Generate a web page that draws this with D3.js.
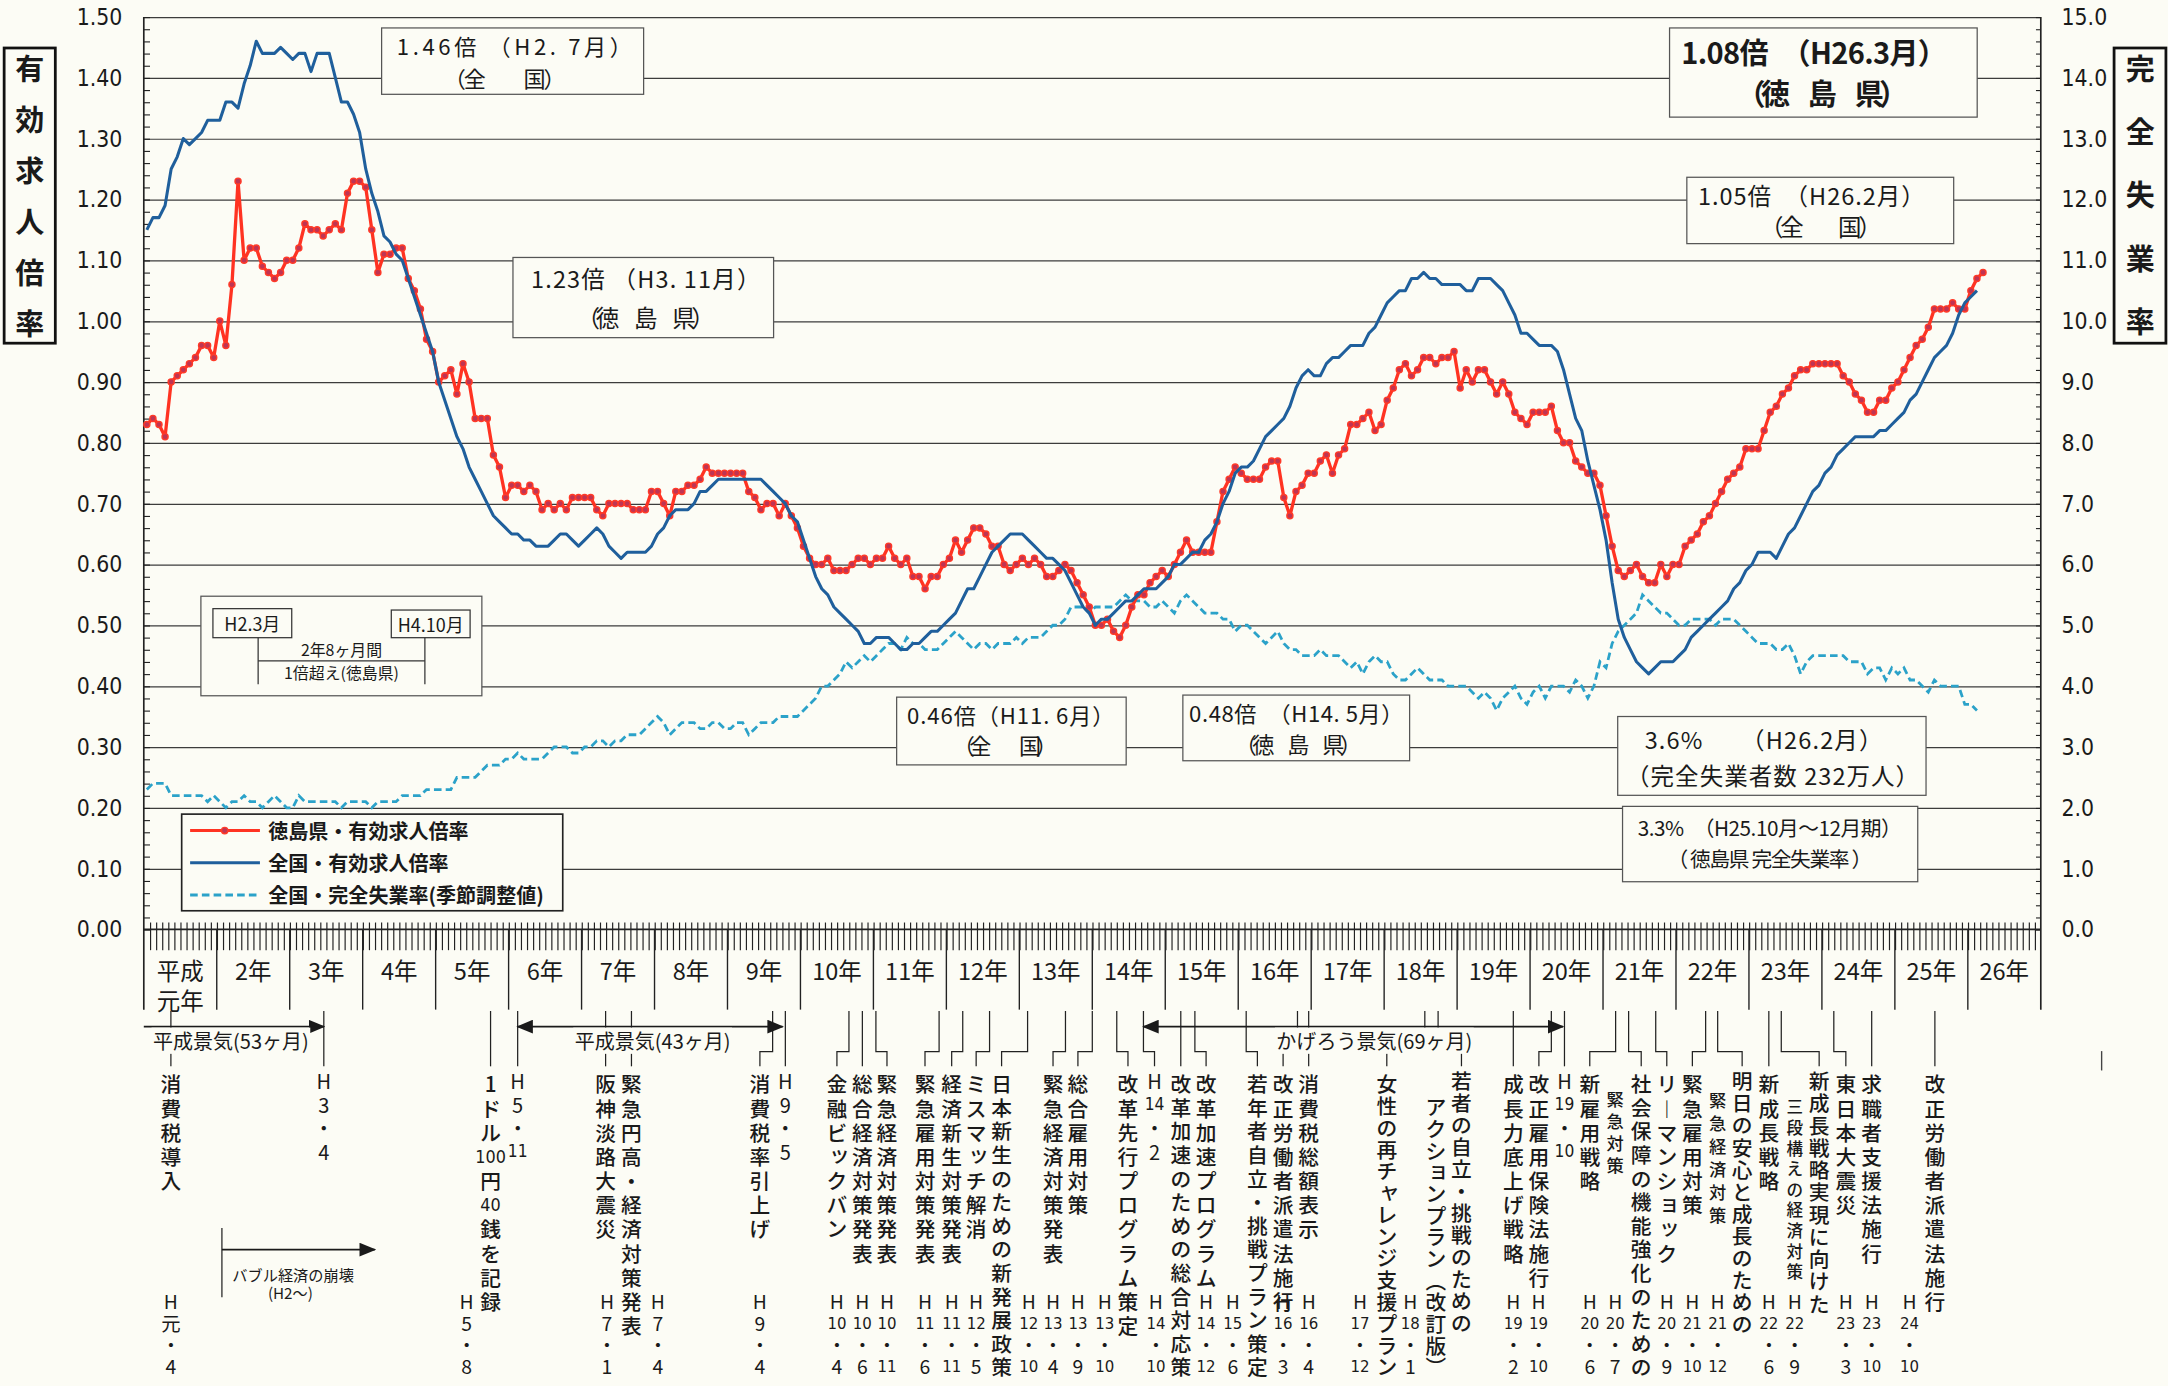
<!DOCTYPE html>
<html lang="ja">
<head>
<meta charset="UTF-8">
<title>有効求人倍率・完全失業率の推移</title>
<style>
body{margin:0;background:#fcfcf5;overflow:hidden;}
text{font-family:"Noto Sans CJK JP","Noto Sans CJK SC",sans-serif;fill:#1a1a1a;}
.num{font-family:"Liberation Sans Narrow","DejaVu Sans Condensed","Liberation Sans",sans-serif;}
</style>
</head>
<body>
<script src="https://d3js.org/d3.v7.min.js"></script>
<script>
// 月次データ（平成元年1月～）
// 徳島県・有効求人倍率
var tokushima = [
 0.83,0.84,0.83,0.81,0.90,0.91,0.92,0.93,0.94,0.96,0.96,0.94, // H1
 1.00,0.96,1.06,1.23,1.10,1.12,1.12,1.09,1.08,1.07,1.08,1.10, // H2
 1.10,1.12,1.16,1.15,1.15,1.14,1.15,1.16,1.15,1.21,1.23,1.23, // H3
 1.22,1.15,1.08,1.11,1.11,1.12,1.12,1.07,1.05,1.02,0.97,0.95, // H4
 0.90,0.91,0.92,0.88,0.93,0.90,0.84,0.84,0.84,0.78,0.76,0.71, // H5
 0.73,0.73,0.72,0.73,0.72,0.69,0.70,0.69,0.70,0.69,0.71,0.71, // H6
 0.71,0.71,0.69,0.68,0.70,0.70,0.70,0.70,0.69,0.69,0.69,0.72, // H7
 0.72,0.70,0.68,0.72,0.72,0.73,0.73,0.74,0.76,0.75,0.75,0.75, // H8
 0.75,0.75,0.75,0.72,0.71,0.69,0.70,0.70,0.68,0.70,0.68,0.66, // H9
 0.63,0.61,0.60,0.60,0.61,0.59,0.59,0.59,0.60,0.61,0.61,0.60, // H10
 0.61,0.61,0.63,0.61,0.60,0.61,0.58,0.58,0.56,0.58,0.58,0.60, // H11
 0.61,0.64,0.62,0.64,0.66,0.66,0.65,0.63,0.63,0.60,0.59,0.60, // H12
 0.61,0.60,0.61,0.60,0.58,0.58,0.59,0.60,0.59,0.57,0.55,0.53, // H13
 0.50,0.50,0.51,0.49,0.48,0.50,0.53,0.55,0.55,0.57,0.58,0.59, // H14
 0.58,0.60,0.62,0.64,0.62,0.62,0.62,0.62,0.67,0.72,0.74,0.76, // H15
 0.75,0.74,0.74,0.74,0.76,0.77,0.77,0.71,0.68,0.72,0.73,0.75, // H16
 0.75,0.77,0.78,0.75,0.78,0.79,0.83,0.83,0.84,0.85,0.82,0.83, // H17
 0.87,0.89,0.92,0.93,0.91,0.92,0.94,0.94,0.93,0.94,0.94,0.95, // H18
 0.89,0.92,0.90,0.92,0.92,0.90,0.88,0.90,0.88,0.85,0.84,0.83, // H19
 0.85,0.85,0.85,0.86,0.82,0.80,0.80,0.77,0.76,0.75,0.75,0.73, // H20
 0.68,0.63,0.59,0.58,0.59,0.60,0.58,0.57,0.57,0.60,0.58,0.60, // H21
 0.60,0.63,0.64,0.65,0.67,0.68,0.70,0.72,0.74,0.75,0.76,0.79, // H22
 0.79,0.79,0.82,0.85,0.86,0.88,0.89,0.91,0.92,0.92,0.93,0.93, // H23
 0.93,0.93,0.93,0.91,0.90,0.88,0.87,0.85,0.85,0.87,0.87,0.89, // H24
 0.90,0.92,0.94,0.96,0.97,0.99,1.02,1.02,1.02,1.03,1.02,1.02, // H25
 1.05,1.07,1.08                                                // H26
];
// 全国・有効求人倍率
var zenkoku = [
 1.15,1.17,1.17,1.19,1.25,1.27,1.30,1.29,1.30,1.31,1.33,1.33,
 1.33,1.36,1.36,1.35,1.39,1.42,1.46,1.44,1.44,1.44,1.45,1.44,
 1.43,1.44,1.44,1.41,1.44,1.44,1.44,1.40,1.36,1.36,1.34,1.31,
 1.25,1.21,1.18,1.14,1.13,1.11,1.10,1.07,1.04,1.01,0.98,0.95,
 0.90,0.87,0.84,0.81,0.79,0.76,0.74,0.72,0.70,0.68,0.67,0.66,
 0.65,0.65,0.64,0.64,0.63,0.63,0.63,0.64,0.65,0.65,0.64,0.63,
 0.64,0.65,0.66,0.65,0.63,0.62,0.61,0.62,0.62,0.62,0.62,0.63,
 0.65,0.66,0.68,0.69,0.69,0.69,0.70,0.72,0.72,0.73,0.74,0.74,
 0.74,0.74,0.74,0.74,0.74,0.74,0.73,0.72,0.71,0.70,0.68,0.67,
 0.64,0.61,0.58,0.56,0.55,0.53,0.52,0.51,0.50,0.49,0.47,0.47,
 0.48,0.48,0.48,0.47,0.46,0.46,0.47,0.47,0.48,0.49,0.49,0.50,
 0.51,0.52,0.54,0.56,0.56,0.58,0.60,0.62,0.63,0.64,0.65,0.65,
 0.65,0.64,0.63,0.62,0.61,0.61,0.60,0.59,0.57,0.55,0.53,0.52,
 0.50,0.51,0.51,0.52,0.53,0.54,0.54,0.55,0.56,0.56,0.56,0.57,
 0.58,0.60,0.60,0.61,0.62,0.62,0.64,0.65,0.67,0.70,0.72,0.75,
 0.76,0.76,0.77,0.79,0.81,0.82,0.83,0.84,0.86,0.89,0.91,0.92,
 0.91,0.91,0.93,0.94,0.94,0.95,0.96,0.96,0.96,0.98,0.99,1.01,
 1.03,1.04,1.05,1.05,1.07,1.07,1.08,1.07,1.07,1.06,1.06,1.06,
 1.06,1.05,1.05,1.07,1.07,1.07,1.06,1.05,1.03,1.01,0.98,0.98,
 0.97,0.96,0.96,0.96,0.95,0.92,0.88,0.84,0.82,0.77,0.73,0.69,
 0.64,0.57,0.51,0.48,0.46,0.44,0.43,0.42,0.43,0.44,0.44,0.44,
 0.45,0.46,0.48,0.49,0.50,0.51,0.52,0.53,0.54,0.56,0.57,0.59,
 0.60,0.62,0.62,0.62,0.61,0.63,0.65,0.66,0.68,0.70,0.72,0.73,
 0.75,0.76,0.78,0.79,0.80,0.81,0.81,0.81,0.81,0.82,0.82,0.83,
 0.84,0.85,0.87,0.88,0.90,0.92,0.94,0.95,0.96,0.98,1.01,1.03,
 1.04,1.05
];
// 全国・完全失業率（季節調整値, %）
var shitsugyo = [
 2.3,2.4,2.4,2.4,2.2,2.2,2.2,2.2,2.2,2.2,2.1,2.2,
 2.1,2.0,2.1,2.1,2.2,2.1,2.1,2.0,2.1,2.2,2.1,2.0,
 2.0,2.2,2.1,2.1,2.1,2.1,2.1,2.1,2.0,2.1,2.1,2.1,
 2.1,2.0,2.1,2.1,2.1,2.1,2.2,2.2,2.2,2.2,2.3,2.3,
 2.3,2.3,2.3,2.5,2.5,2.5,2.5,2.6,2.7,2.7,2.7,2.8,
 2.8,2.9,2.8,2.8,2.8,2.8,2.9,3.0,3.0,3.0,2.9,2.9,
 3.0,3.0,3.1,3.1,3.0,3.1,3.1,3.2,3.2,3.2,3.3,3.4,
 3.5,3.4,3.2,3.3,3.4,3.4,3.4,3.3,3.3,3.4,3.4,3.3,
 3.3,3.4,3.4,3.2,3.3,3.4,3.4,3.4,3.5,3.5,3.5,3.5,
 3.6,3.7,3.8,4.0,4.0,4.1,4.2,4.4,4.3,4.4,4.5,4.4,
 4.5,4.6,4.7,4.7,4.6,4.8,4.7,4.7,4.6,4.6,4.6,4.7,
 4.8,4.9,4.8,4.7,4.6,4.7,4.7,4.6,4.7,4.7,4.7,4.8,
 4.7,4.8,4.8,4.8,4.9,5.0,5.0,5.1,5.3,5.3,5.3,5.2,
 5.3,5.3,5.3,5.3,5.4,5.5,5.4,5.4,5.4,5.3,5.3,5.4,
 5.3,5.2,5.4,5.5,5.4,5.3,5.2,5.2,5.2,5.1,5.1,4.9,
 5.0,5.0,4.9,4.8,4.7,4.8,4.9,4.7,4.6,4.6,4.5,4.5,
 4.5,4.6,4.5,4.5,4.5,4.4,4.3,4.4,4.2,4.4,4.5,4.4,
 4.4,4.2,4.1,4.1,4.2,4.3,4.2,4.1,4.1,4.1,4.0,4.0,
 4.0,4.0,3.9,3.8,3.9,3.8,3.6,3.8,3.9,4.0,3.8,3.7,
 3.9,4.0,3.8,4.0,4.0,4.0,3.9,4.1,4.0,3.8,4.0,4.4,
 4.3,4.7,4.9,5.0,5.1,5.2,5.5,5.4,5.3,5.2,5.2,5.1,
 5.0,5.0,5.1,5.1,5.1,5.1,5.0,5.1,5.1,5.1,5.0,4.9,
 4.8,4.7,4.7,4.7,4.6,4.6,4.7,4.5,4.2,4.4,4.5,4.5,
 4.5,4.5,4.5,4.5,4.4,4.4,4.4,4.2,4.3,4.3,4.1,4.3,
 4.2,4.3,4.1,4.1,4.0,3.9,4.1,4.0,4.0,4.0,4.0,3.7,
 3.7,3.6
];
var yearLabels = ["平成元年","2年","3年","4年","5年","6年","7年","8年","9年","10年","11年","12年","13年",
  "14年","15年","16年","17年","18年","19年","20年","21年","22年","23年","24年","25年","26年"];
var leftTicks = d3.range(0, 16).map(function(d){ return d / 10; });   // 0.00 ～ 1.50
var rightTicks = d3.range(0, 16);                                      // 0.0 ～ 15.0
var seriesNames = ["徳島県・有効求人倍率","全国・有効求人倍率","全国・完全失業率(季節調整値)"];

// 出来事（縦書き）
var events = [
 {x:123.6,t:"消費税導入"},{x:354.8,t:"1ドル100円40銭を記録"},{x:438,t:"阪神淡路大震災"},
 {x:456.7,t:"緊急円高・経済対策発表"},{x:549.6,t:"消費税率引上げ"},{x:605.3,t:"金融ビックバン"},
 {x:623.7,t:"総合経済対策発表"},{x:641.5,t:"緊急経済対策発表"},{x:669,t:"緊急雇用対策発表"},
 {x:688.3,t:"経済新生対策発表"},{x:706,t:"ミスマッチ解消"},{x:724.4,t:"日本新生のための新発展政策"},
 {x:761.6,t:"緊急経済対策発表"},{x:779.6,t:"総合雇用対策"},{x:815.8,t:"改革先行プログラム策定"},
 {x:854,t:"改革加速のための総合対応策"},{x:872.3,t:"改革加速プログラム"},{x:909.4,t:"若年者自立・挑戦プラン策定"},
 {x:928,t:"改正労働者派遣法施行"},{x:946.5,t:"消費税総額表示"},{x:1003,t:"女性の再チャレンジ支援プラン",s:16.3},
 {x:1038.5,t:"アクションプラン（改訂版）",y:800,s:16},{x:1057,t:"若者の自立・挑戦のための",y:781,s:15.9},
 {x:1094.5,t:"成長力底上げ戦略"},{x:1113,t:"改正雇用保険法施行"},{x:1149.8,t:"新雇用戦略"},
 {x:1168.2,t:"緊急対策",y:794,s:16,f:12.5},{x:1187,t:"社会保障の機能強化のための"},{x:1205.5,t:"リーマンショック"},
 {x:1224,t:"緊急雇用対策"},{x:1242.3,t:"緊急経済対策",y:795,s:16.6,f:12.5},{x:1260,t:"明日の安心と成長のための",y:781,s:16},
 {x:1279.3,t:"新成長戦略"},{x:1298,t:"三段構えの経済対策",y:800,s:14.9,f:12},{x:1315.7,t:"新成長戦略実現に向けた",y:781,s:16.1},
 {x:1335,t:"東日本大震災"},{x:1353.7,t:"求職者支援法施行"},{x:1399.4,t:"改正労働者派遣法施行"}
];
var topDates = [[234.2,"H3・4"],[374.4,"H5・11"],[568,"H9・5"],[835,"H14・2"],[1131.5,"H19・10"]];
var bottomDates = [[123.6,"H元・4"],[337.5,"H5・8"],[439,"H7・1"],[475.8,"H7・4"],[549.6,"H9・4"],
 [605.3,"H10・4"],[623.7,"H10・6"],[641.5,"H10・11"],[669,"H11・6"],[688.3,"H11・11"],[706,"H12・5"],
 [744,"H12・10"],[761.6,"H13・4"],[779.6,"H13・9"],[799,"H13・10"],[836,"H14・10"],[872.3,"H14・12"],
 [891.6,"H15・6"],[928,"H16・3"],[946.5,"H16・4"],[983.6,"H17・12"],[1020,"H18・1"],[1094.5,"H19・2"],
 [1112.8,"H19・10"],[1149.8,"H20・6"],[1168.2,"H20・7"],[1205.5,"H20・9"],[1224,"H21・10"],[1242.3,"H21・12"],
 [1279.3,"H22・6"],[1298,"H22・9"],[1335,"H23・3"],[1353.7,"H23・10"],[1381,"H24・10"]];
// 引出し線 [元のx, 列のx]
var leaders = [[123.6,123.6],[234.2,234.2],[354.8,354.8],[374.4,374.4],[438,438],[456.7,456.7],[558.8,549.6],
 [568,568],[614,605.3],[623.7,623.7],[633.5,641.5],[679.2,669],[696.3,688.3],[715.7,706],[743.2,724.4],
 [770.6,761.6],[790,779.6],[807.7,815.8],[827,835],[854,854],[864.2,872.3],[901.3,909.4],[938.4,928],
 [946.5,946.5],[1030.5,1003],[1040.1,1057],[1094.5,1094.5],[1122,1113],[1131.5,1131.5],[1168.5,1149.8],
 [1177.9,1187],[1197.5,1205.5],[1233.6,1224],[1242.3,1260],[1279.3,1279.3],[1288.3,1315.7],[1326.3,1335],
 [1353.7,1353.7],[1399.4,1399.4]];

var W = 1568, H = 1002;
var svg = d3.select("body").append("svg")
	.attr("width", 2168).attr("height", 1386)
	.attr("viewBox", "0 0 " + W + " " + H);
svg.append("rect").attr("width", W).attr("height", H).attr("fill", "#fcfcf5");

var pLeft = 104, pRight = 1476, pTop = 12, pBottom = 672, bandBottom = 730;
var x = d3.scaleLinear().domain([0, 312]).range([pLeft, pRight]);
var yL = d3.scaleLinear().domain([0, 1.5]).range([pBottom, pTop]);
var yR = d3.scaleLinear().domain([0, 15]).range([pBottom, pTop]);

var defs = svg.append("defs");
defs.append("marker").attr("id","ah").attr("markerUnits","userSpaceOnUse")
	.attr("markerWidth",12).attr("markerHeight",10).attr("viewBox","0 0 12 10")
	.attr("refX",11).attr("refY",5).attr("orient","auto-start-reverse")
	.append("path").attr("d","M0,0 L12,5 L0,10 Z").attr("fill","#1a1a1a");

function noDomain(g){ g.select(".domain").remove(); }

// 横線
svg.append("g").attr("transform","translate("+pLeft+",0)")
	.call(d3.axisLeft(yL).tickValues(leftTicks.slice(1)).tickSize(-(pRight-pLeft)).tickFormat(""))
	.call(noDomain)
	.selectAll("line").attr("stroke","#3c3c3c").attr("stroke-width",0.9);
// 左目盛
svg.append("g").attr("transform","translate("+pLeft+",0)")
	.call(d3.axisLeft(yL).tickValues(d3.range(0,76).map(function(d){return d*0.02;})).tickSize(-4.5).tickFormat(""))
	.call(noDomain)
	.selectAll("line").attr("stroke","#222").attr("stroke-width",0.8);
var la = svg.append("g").attr("transform","translate("+pLeft+",0)")
	.call(d3.axisLeft(yL).tickValues(leftTicks).tickFormat(d3.format(".2f")).tickSize(0).tickPadding(15.5))
	.call(noDomain);
la.selectAll("text").attr("class","num").attr("font-size",16.5).attr("fill","#1a1a1a");
// 右目盛
svg.append("g").attr("transform","translate("+pRight+",0)")
	.call(d3.axisRight(yR).tickValues(d3.range(0,76).map(function(d){return d*0.2;})).tickSize(-3.5).tickFormat(""))
	.call(noDomain)
	.selectAll("line").attr("stroke","#222").attr("stroke-width",0.8);
var ra = svg.append("g").attr("transform","translate("+pRight+",0)")
	.call(d3.axisRight(yR).tickValues(rightTicks).tickFormat(d3.format(".1f")).tickSize(0).tickPadding(15))
	.call(noDomain);
ra.selectAll("text").attr("class","num").attr("font-size",16.5).attr("fill","#1a1a1a");

// 月目盛
svg.append("g").attr("transform","translate(0,"+(pBottom-5)+")")
	.call(d3.axisBottom(x).tickValues(d3.range(1,312)).tickSize(20).tickFormat(""))
	.call(noDomain)
	.selectAll("line").attr("stroke","#222").attr("stroke-width",0.85);
svg.append("line").attr("x1",pLeft).attr("x2",pRight).attr("y1",pBottom).attr("y2",pBottom)
	.attr("stroke","#222").attr("stroke-width",1.2);
// 枠と年の区切り
[pLeft, pRight].forEach(function(px){
	svg.append("line").attr("x1",px).attr("x2",px).attr("y1",pTop).attr("y2",bandBottom)
		.attr("stroke","#222").attr("stroke-width",1.2);
});
svg.append("g").selectAll("line").data(d3.range(1,26)).join("line")
	.attr("x1",function(d){return x(d*12);}).attr("x2",function(d){return x(d*12);})
	.attr("y1",pBottom).attr("y2",bandBottom).attr("stroke","#222").attr("stroke-width",1);
svg.append("g").selectAll("text").data(yearLabels).join("text")
	.attr("x",function(d,i){return x(i*12+6);})
	.attr("y",701).attr("text-anchor","middle").attr("dominant-baseline","central")
	.attr("font-size",17)
	.text(function(d,i){return i===0 ? "平成" : d;});
svg.append("text").attr("x",x(6)).attr("y",723).attr("text-anchor","middle")
	.attr("dominant-baseline","central").attr("font-size",17).text("元年");

// 系列
var lineL = d3.line().x(function(d,i){return x(i+0.5);}).y(function(d){return yL(d);});
var lineR = d3.line().x(function(d,i){return x(i+0.5);}).y(function(d){return yR(d);});
svg.append("path").attr("d",lineR(shitsugyo)).attr("fill","none")
	.attr("stroke","#2ba2c9").attr("stroke-width",2).attr("stroke-dasharray","5.5,3");
svg.append("path").attr("d",lineL(tokushima)).attr("fill","none")
	.attr("stroke","#ff3322").attr("stroke-width",2.4).attr("stroke-linejoin","round");
svg.append("g").selectAll("circle").data(tokushima).join("circle")
	.attr("cx",function(d,i){return x(i+0.5);}).attr("cy",function(d){return yL(d);})
	.attr("r",2.2).attr("fill","#c03452").attr("stroke","#ff3a28").attr("stroke-width",1);
svg.append("path").attr("d",lineL(zenkoku)).attr("fill","none")
	.attr("stroke","#1f5f9c").attr("stroke-width",2.2).attr("stroke-linejoin","round");

// 注記ボックス
function box(x0,y0,x1,y1,opt){
	svg.append("rect").attr("x",x0).attr("y",y0).attr("width",x1-x0).attr("height",y1-y0)
		.attr("fill","#fcfcf5").attr("stroke",(opt&&opt.stroke)||"#555").attr("stroke-width",(opt&&opt.sw)||0.9);
}
function label(cx,cy,str,size,w,weight){
	var t = svg.append("text").attr("x",cx).attr("y",cy).attr("text-anchor","middle")
		.attr("dominant-baseline","central").attr("font-size",size).text(str);
	if (w) t.attr("textLength",w).attr("lengthAdjust","spacing");
	if (weight) t.attr("font-weight",weight);
	return t;
}
box(276,20,465.5,68);
label(372,32.5,"1.46倍 （H2. 7月）",16,170); label(365,55.5,"（全　　国）",16,88);
box(371,186,559.5,244);
label(467,201,"1.23倍 （H3. 11月）",17,166); label(467,229,"（徳　島　県）",17,100);
box(648.5,504,814.5,553);
label(731,516,"0.46倍（H11. 6月）",16,150); label(727,538,"（全　　国）",16,76);
box(855.5,502.5,1019.5,550);
label(937.5,515,"0.48倍　（H14. 5月）",16,155); label(939,537,"（徳　島　県）",16,92);
box(1207.5,20,1430,84.5);
label(1312,36.5,"1.08倍　（H26.3月）",21,192,"bold"); label(1318,66.5,"（ 徳　島　県 ）",21,124,"bold");
box(1220,128,1413,176);
label(1310,141,"1.05倍　（H26.2月）",17,164); label(1317,163,"（ 全　　国 ）",17,88);
box(1170,518,1393,575);
label(1275.5,534,"3.6%　　（H26.2月）",17,172); label(1282,560.5,"（完全失業者数 232万人）",17,212);
box(1173.5,583,1387,637.5);
label(1280,598,"3.3%　（H25.10月～12月期）",15,191); label(1280,620.5,"（ 徳島県 完全失業率 ）",15,148);

// 1倍超え期間
box(145.3,431,348.5,503);
box(154,440,211,461,{stroke:"#333"}); box(283,441,340,461,{stroke:"#333"});
label(182.5,450.5,"H2.3月",13); label(311.5,451,"H4.10月",13);
[[186.7,186.7,461,494.6],[307.3,307.3,461,494.6],[186.7,307.3,477.7,477.7]].forEach(function(l){
	svg.append("line").attr("x1",l[0]).attr("x2",l[1]).attr("y1",l[2]).attr("y2",l[3]).attr("stroke","#333").attr("stroke-width",0.9);
});
label(247,469.5,"2年8ヶ月間",11.5); label(247,486,"1倍超え(徳島県)",11.5);

// 凡例
box(131.4,588.6,407,658.5,{stroke:"#222",sw:1.2});
var lg = [{c:"#ff3322",dash:null},{c:"#1f5f9c",dash:null},{c:"#2ba2c9",dash:"5.5,3"}];
lg.forEach(function(s,i){
	var yy = 600.5 + i*23.3;
	svg.append("line").attr("x1",137.5).attr("x2",188).attr("y1",yy).attr("y2",yy)
		.attr("stroke",s.c).attr("stroke-width",2.2).attr("stroke-dasharray",s.dash);
	if (i===0) svg.append("circle").attr("cx",162.5).attr("cy",yy).attr("r",2.3)
		.attr("fill","#c03452").attr("stroke","#ff3a28").attr("stroke-width",1);
	svg.append("text").attr("x",194).attr("y",yy).attr("dominant-baseline","central")
		.attr("font-size",14.5).attr("font-weight","bold").text(seriesNames[i]);
});

// 軸ラベル（縦書き）
function vlabel(cx,y0,step,str){
	var t = svg.append("text").attr("text-anchor","middle").attr("dominant-baseline","central")
		.attr("font-size",21).attr("font-weight","bold");
	str.split("").forEach(function(c,i){
		t.append("tspan").attr("x",cx).attr("y",y0+i*step).text(c);
	});
}
svg.append("rect").attr("x",3).attr("y",34.5).attr("width",37).attr("height",213.5)
	.attr("fill","none").attr("stroke","#111").attr("stroke-width",2);
vlabel(21.5,48,36.9,"有効求人倍率");
svg.append("rect").attr("x",1529).attr("y",34.5).attr("width",37.5).attr("height",213.5)
	.attr("fill","none").attr("stroke","#111").attr("stroke-width",2);
vlabel(1548,48,45.8,"完全失業率");

// 下部：引出し線
var lead = svg.append("g").attr("stroke","#222").attr("stroke-width",0.9).attr("fill","none");
leaders.forEach(function(l){
	if (Math.abs(l[0]-l[1]) < 0.5) {
		lead.append("path").attr("d","M"+l[0]+","+(bandBottom+1)+"V771");
	} else {
		lead.append("path").attr("d","M"+l[0]+","+(bandBottom+1)+"V760.4H"+l[1]+"V771");
	}
});
// 景気の矢印
function arrow(x0,x1,yy,both){
	var p = svg.append("line").attr("x1",x0).attr("x2",x1).attr("y1",yy).attr("y2",yy)
		.attr("stroke","#1a1a1a").attr("stroke-width",1.3).attr("marker-end","url(#ah)");
	if (both) p.attr("marker-start","url(#ah)");
}
arrow(pLeft,234.2,742.3,false);
arrow(374.4,566,742.3,true);
arrow(827,1130.5,742.3,true);
function bgLabel(cx,cy,str,size){
	var t = label(cx,cy,str,size);
	var b = t.node().getBBox();
	svg.insert("rect", function(){ return t.node(); })
		.attr("x",b.x-1).attr("y",b.y+1).attr("width",b.width+2).attr("height",b.height-2).attr("fill","#fcfcf5");
}
bgLabel(167,752.5,"平成景気(53ヶ月)",14.5);
bgLabel(472,752.5,"平成景気(43ヶ月)",14.5);
bgLabel(994,752.5,"かげろう景気(69ヶ月)",14.5);

// バブル経済の崩壊
svg.append("line").attr("x1",160.5).attr("x2",160.5).attr("y1",888).attr("y2",938).attr("stroke","#222").attr("stroke-width",0.9);
svg.append("line").attr("x1",160.5).attr("x2",271).attr("y1",903.6).attr("y2",903.6)
	.attr("stroke","#1a1a1a").attr("stroke-width",1.2).attr("marker-end","url(#ah)");
label(212,921,"バブル経済の崩壊",11);
label(210,934.5,"(H2～)",11);
svg.append("line").attr("x1",1520).attr("x2",1520).attr("y1",760).attr("y2",774).attr("stroke","#444").attr("stroke-width",1);

// 縦書き（1列を1つのtextにまとめる）
function tokens(s){ return s.match(/[0-9]+|./g); }
var vForm = {"ー":"︱","（":"︵","）":"︶"};
var smallKana = "ッョャュィェァ";
var yMax = 988;
function vcol(cx,y0,step,str,size,weight){
	var tk = tokens(str);
	if (tk.length > 1) step = Math.min(step, (yMax - y0) / (tk.length - 1));
	var t = svg.append("text").attr("text-anchor","middle").attr("dominant-baseline","central")
		.attr("font-size",size);
	if (weight) t.attr("font-weight",weight);
	tk.forEach(function(c,i){
		var yy = y0 + i*step, xx = cx;
		if (smallKana.indexOf(c) >= 0) { xx += size*0.12; yy -= size*0.12; }
		var s = t.append("tspan").attr("x",xx).attr("y",yy).text(vForm[c] || c);
		if (/^[0-9]{2,}$/.test(c)) s.attr("class","num").attr("font-size",size*0.86);
	});
}
events.forEach(function(e){
	vcol(e.x, e.y || 783.3, e.s || 17.5, e.t, e.f || 15, 500);
});
topDates.forEach(function(d){ vcol(d[0], 781, 17, d[1], 14.5); });
bottomDates.forEach(function(d){ vcol(d[0], 941, 15.7, d[1], 14); });
</script>
</body>
</html>
